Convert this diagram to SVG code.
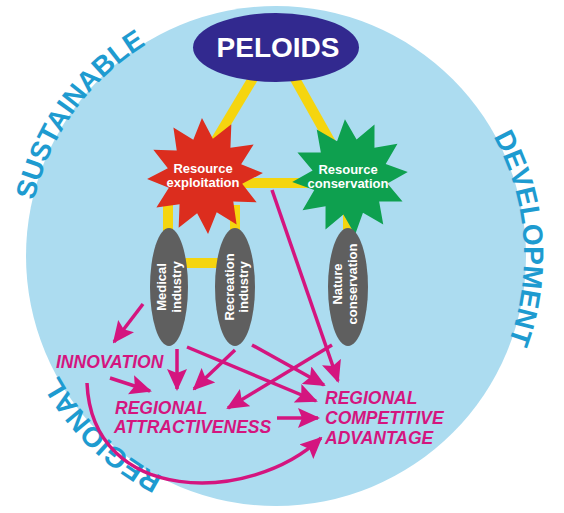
<svg xmlns="http://www.w3.org/2000/svg" width="564" height="513" viewBox="0 0 564 513">
<style>
.ring{font-family:"Liberation Sans",Arial,sans-serif;font-weight:bold;font-size:28px;fill:#1e9bd0}
.yl{stroke:#f5d50f;stroke-width:10;fill:none}
.mg{stroke:#d4157f;stroke-width:3.5;fill:none;marker-end:url(#ah)}
.lab{font-family:"Liberation Sans",Arial,sans-serif;font-weight:bold;font-style:italic;font-size:17.5px;fill:#d4157f}
.wt{font-family:"Liberation Sans",Arial,sans-serif;font-weight:bold;font-size:13px;fill:#ffffff;text-anchor:middle}
.gray{fill:#5f5f5f}
</style>
<defs>
<path id="ringpath" d="M276,504 A248,248 0 1,1 276,8 A248,248 0 1,1 276,504"/>
<polygon id="star" points="0,-58 9.8,-36.7 29,-50.2 26.9,-26.9 50.2,-29 36.7,-9.8 58,0 36.7,9.8 50.2,29 26.9,26.9 29,50.2 9.8,36.7 0,58 -9.8,36.7 -29,50.2 -26.9,26.9 -50.2,29 -36.7,9.8 -58,0 -36.7,-9.8 -50.2,-29 -26.9,-26.9 -29,-50.2 -9.8,-36.7"/>
<marker id="ah" markerUnits="userSpaceOnUse" markerWidth="22" markerHeight="20" refX="20" refY="10" orient="auto">
<path d="M0,0 L22,10 L0,20 L4,10 z" fill="#d4157f"/>
</marker>
</defs>
<circle cx="276" cy="256" r="250" fill="#acdcf0"/>
<g id="ring-labels">
<text class="ring"><textPath href="#ringpath" startOffset="544" text-anchor="middle">SUSTAINABLE</textPath></text>
<text class="ring"><textPath href="#ringpath" startOffset="1150" text-anchor="middle">DEVELOPMENT</textPath></text>
<text class="ring"><textPath href="#ringpath" startOffset="191" text-anchor="middle">REGIONAL</textPath></text>
</g>
<g id="links">
<line class="yl" x1="258" y1="70" x2="210" y2="150"/>
<line class="yl" x1="290" y1="70" x2="335" y2="150"/>
<line class="yl" x1="230" y1="183" x2="310" y2="183"/>
<line class="yl" x1="168" y1="205" x2="168" y2="240"/>
<line class="yl" x1="235" y1="205" x2="235" y2="240"/>
<line class="yl" x1="169" y1="263" x2="235" y2="263"/>
<line class="yl" x1="348" y1="205" x2="348" y2="240"/>
</g>
<g id="peloids">
<ellipse cx="276" cy="47.5" rx="83" ry="34.5" fill="#32298f"/>
<text x="278" y="57" font-family="Liberation Sans, Arial, sans-serif" font-weight="bold" font-size="28" fill="#ffffff" text-anchor="middle">PELOIDS</text>
</g>
<g id="exploitation">
<use href="#star" transform="translate(205,176) rotate(-3)" fill="#dc2d1e"/>
<text class="wt"><tspan x="203" y="173">Resource</tspan><tspan x="203" y="187">exploitation</tspan></text>
</g>
<g id="conservation">
<use href="#star" transform="translate(350,177) rotate(-5)" fill="#0ea04f"/>
<text class="wt"><tspan x="348" y="174">Resource</tspan><tspan x="348" y="188">conservation</tspan></text>
</g>
<g id="medical">
<ellipse class="gray" cx="169" cy="287" rx="19" ry="59"/>
<text class="wt" transform="translate(169,287) rotate(-90)"><tspan x="0" y="-3">Medical</tspan><tspan x="0" y="12">industry</tspan></text>
</g>
<g id="recreation">
<ellipse class="gray" cx="235" cy="287" rx="20" ry="59"/>
<text class="wt" transform="translate(235,287) rotate(-90)"><tspan x="0" y="-1">Recreation</tspan><tspan x="0" y="13">industry</tspan></text>
</g>
<g id="nature">
<ellipse class="gray" cx="348" cy="287" rx="20" ry="59"/>
<text class="wt" transform="translate(348,284) rotate(-90)"><tspan x="0" y="-6">Nature</tspan><tspan x="0" y="9">conservation</tspan></text>
</g>
<g id="connectors">
<line class="mg" x1="143" y1="304" x2="114" y2="342"/>
<line class="mg" x1="177" y1="349" x2="177" y2="389"/>
<line class="mg" x1="235" y1="350" x2="194" y2="389"/>
<line class="mg" x1="110" y1="378" x2="150" y2="391"/>
<line class="mg" x1="187" y1="347" x2="316" y2="401"/>
<line class="mg" x1="252" y1="345" x2="324" y2="385"/>
<line class="mg" x1="332" y1="345" x2="228" y2="408"/>
<line class="mg" x1="272" y1="190" x2="338" y2="381"/>
<line class="mg" x1="277" y1="418" x2="318" y2="418"/>
<path class="mg" d="M87,383 C92,505 250,505 321,438"/>
</g>
<g id="innovation"><text class="lab" x="56" y="368">INNOVATION</text></g>
<g id="attractiveness"><text class="lab"><tspan x="115" y="414">REGIONAL</tspan><tspan x="114" y="433">ATTRACTIVENESS</tspan></text></g>
<g id="competitive"><text class="lab"><tspan x="325" y="404">REGIONAL</tspan><tspan x="325" y="424">COMPETITIVE</tspan><tspan x="325" y="444">ADVANTAGE</tspan></text></g>
</svg>
